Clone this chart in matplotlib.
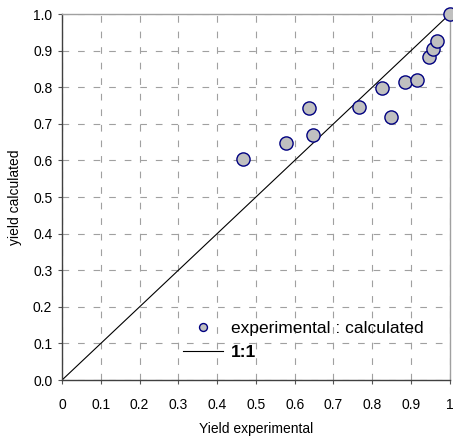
import matplotlib.pyplot as plt

plt.rcParams["font.family"] = ["Liberation Sans", "DejaVu Sans"]

# measured vs calculated yield
yield_exp = [0.466, 0.577, 0.637, 0.646, 0.766, 0.824, 0.847, 0.884, 0.915, 0.946, 0.956, 0.966, 1.0]
yield_calc = [0.604, 0.648, 0.744, 0.669, 0.747, 0.798, 0.719, 0.814, 0.820, 0.883, 0.904, 0.926, 1.0]
one_to_one = [0, 1]

fig = plt.figure(figsize=(4.53, 4.38), dpi=100)
ax = fig.add_axes([0.137, 0.1324, 0.856, 0.8356])

ax.plot(yield_exp, yield_calc, "o", color="#c0c0c0", markeredgecolor="#000080",
        markersize=9.5, markeredgewidth=1.0, label="experimental : calculated",
        clip_on=False, zorder=3)
ax.plot(one_to_one, one_to_one, color="black", linewidth=0.8, label="1:1", zorder=2)

ax.set_xlim(0, 1)
ax.set_ylim(0, 1)
ax.set_xticks([i / 10 for i in range(11)])
ax.set_yticks([i / 10 for i in range(11)])
ax.set_xticklabels(["0", "0.1", "0.2", "0.3", "0.4", "0.5", "0.6", "0.7", "0.8", "0.9", "1"])
ax.set_yticklabels([f"{i / 10:.1f}" for i in range(11)])
ax.grid(True, color="#a0a0a0", linestyle=(0, (6, 8)), linewidth=0.8)
ax.tick_params(direction="out", length=3, labelsize=10, color="#555555", pad=4)
ax.tick_params(axis="x", pad=10)

for s in ["left", "bottom"]:
    ax.spines[s].set_color("#404040")
    ax.spines[s].set_linewidth(1.0)
for s in ["top", "right"]:
    ax.spines[s].set_color("#a0a0a0")
    ax.spines[s].set_linewidth(1.0)

ax.set_xlabel("Yield experimental", fontsize=10, labelpad=7)
ax.set_ylabel("yield calculated", fontsize=10, labelpad=8)

leg = ax.legend(loc="upper left", bbox_to_anchor=(0.312, 0.161), frameon=False,
                fontsize=12.5, markerscale=0.6, handlelength=2.3, handletextpad=0.45,
                borderaxespad=0, borderpad=0, labelspacing=0.5)
leg.get_texts()[1].set_fontweight("bold")

fig.savefig("out.png", dpi=100)
